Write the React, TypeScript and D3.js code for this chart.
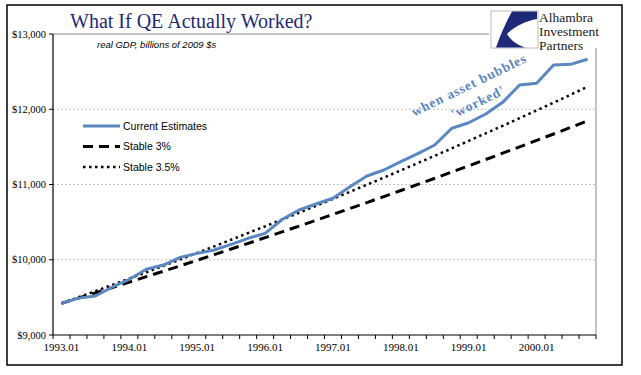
import React from "react";
import * as d3 from "d3";

const categories: string[] = [
  "1993.01","1993.04","1993.07","1993.10",
  "1994.01","1994.04","1994.07","1994.10",
  "1995.01","1995.04","1995.07","1995.10",
  "1996.01","1996.04","1996.07","1996.10",
  "1997.01","1997.04","1997.07","1997.10",
  "1998.01","1998.04","1998.07","1998.10",
  "1999.01","1999.04","1999.07","1999.10",
  "2000.01","2000.04","2000.07","2000.10",
];

const currentEstimates: number[] = [
  9420, 9490, 9518, 9638, 9740, 9873, 9930, 10032,
  10085, 10130, 10205, 10285, 10350, 10535, 10661, 10741,
  10817, 10971, 11113, 11193, 11303, 11410, 11525, 11747,
  11821, 11937, 12092, 12322, 12345, 12588, 12597, 12664,
];

const stable3: number[] = [
  9420, 9490, 9560, 9631, 9703, 9775, 9847, 9920,
  9994, 10068, 10143, 10218, 10294, 10370, 10447, 10524,
  10602, 10681, 10760, 10840, 10920, 11001, 11083, 11165,
  11248, 11332, 11416, 11500, 11586, 11671, 11758, 11845,
];

const stable35: number[] = [
  9420, 9501, 9583, 9666, 9750, 9834, 9919, 10005,
  10091, 10178, 10266, 10355, 10444, 10534, 10625, 10717,
  10810, 10903, 10997, 11092, 11188, 11285, 11382, 11480,
  11580, 11680, 11780, 11882, 11985, 12088, 12193, 12298,
];

const yTicks: number[] = [9000, 10000, 11000, 12000, 13000];
const seriesNames: string[] = ["Current Estimates", "Stable 3%", "Stable 3.5%"];

const BLUE = "#5B87C0";
const NAVY = "#1E2A78";

export default function App() {
  const left = 53, right = 596, top = 34, bottom = 335;
  const x = d3.scaleBand<string>().domain(categories).range([left, right]);
  const bw = x.bandwidth();
  const cx = (c: string) => (x(c) as number) + bw / 2;
  const y = d3.scaleLinear().domain([9000, 13000]).range([bottom, top]);

  const line = d3
    .line<number>()
    .x((_, i) => cx(categories[i]))
    .y((d) => y(d));

  const tickXs = categories.map((c) => x(c) as number).concat([right]);
  const serif = "'Liberation Serif', 'Times New Roman', serif";
  const sans = "'Liberation Sans', Arial, sans-serif";

  return (
    <svg
      width={641}
      height={375}
      style={{ position: "absolute", left: 0, top: 0, display: "block", background: "#fff" }}
    >
      <rect x={0} y={0} width={641} height={375} fill="#fff" />
      {/* outer frame */}
      <rect x={7} y={5} width={615} height={360} fill="none" stroke="#000" strokeWidth={1.5} />

      {/* gridlines */}
      {yTicks.slice(1, 4).map((t) => (
        <line key={t} x1={left} x2={right} y1={y(t)} y2={y(t)} stroke="#b0b0b0" strokeWidth={0.8} strokeDasharray="2,2" />
      ))}
      {/* plot border top & right */}
      <line x1={left} x2={right} y1={y(13000)} y2={y(13000)} stroke="#888" strokeWidth={1} />
      <line x1={right} x2={right} y1={top} y2={bottom} stroke="#888" strokeWidth={1} />

      {/* axes */}
      <line x1={left} x2={left} y1={top} y2={bottom} stroke="#000" strokeWidth={1.2} />
      <line x1={left} x2={right} y1={bottom} y2={bottom} stroke="#000" strokeWidth={1.2} />
      {yTicks.map((t) => (
        <g key={t}>
          <line x1={left - 4} x2={left} y1={y(t)} y2={y(t)} stroke="#000" strokeWidth={1} />
          <text x={left - 7} y={y(t) + 3.5} textAnchor="end" fontFamily={serif} fontSize={10.5} fill="#000">
            {d3.format("$,")(t)}
          </text>
        </g>
      ))}
      {tickXs.map((tx, i) => (
        <line key={i} x1={tx} x2={tx} y1={bottom} y2={bottom + 4} stroke="#000" strokeWidth={1} />
      ))}
      {categories.map((c, i) =>
        i % 4 === 0 ? (
          <text key={c} x={cx(c)} y={bottom + 16} textAnchor="middle" fontFamily={serif} fontSize={11} fill="#000">
            {c}
          </text>
        ) : null
      )}

      {/* series */}
      <path d={line(stable3) || ""} fill="none" stroke="#000" strokeWidth={3} strokeDasharray="10,6" />
      <path d={line(stable35) || ""} fill="none" stroke="#000" strokeWidth={2.5} strokeDasharray="2.5,3.5" />
      <path d={line(currentEstimates) || ""} fill="none" stroke={BLUE} strokeWidth={3} strokeLinejoin="round" />

      {/* legend */}
      <g fontFamily={sans} fontSize={10.5} fill="#000">
        <line x1={83} x2={120} y1={126} y2={126} stroke={BLUE} strokeWidth={3} />
        <text x={123} y={129.5}>{seriesNames[0]}</text>
        <line x1={83} x2={120} y1={146.5} y2={146.5} stroke="#000" strokeWidth={3} strokeDasharray="10,6" />
        <text x={123} y={150}>{seriesNames[1]}</text>
        <line x1={83} x2={120} y1={167} y2={167} stroke="#000" strokeWidth={2.5} strokeDasharray="2.5,3.5" />
        <text x={123} y={170.5}>{seriesNames[2]}</text>
      </g>

      {/* annotation */}
      <g fontFamily={serif} fontWeight="bold" fontSize={13.5} fill={BLUE}>
        <text transform="translate(471,89) rotate(-26)" textAnchor="middle" letterSpacing={0.9}>
          when asset bubbles
        </text>
        <text transform="translate(480,106) rotate(-26)" textAnchor="middle" letterSpacing={0.9}>
          'worked'
        </text>
      </g>

      {/* title */}
      <text x={70} y={28} fontFamily={serif} fontSize={20} fill={NAVY}>
        What If QE Actually Worked?
      </text>
      <text x={97} y={48} fontFamily={sans} fontStyle="italic" fontSize={9.5} fill="#000">
        real GDP, billions of 2009 $s
      </text>

      {/* logo */}
      <rect x={489} y={8} width={125} height={40} fill="#fff" />
      <rect x={491} y={11} width={47} height={37} fill="#fff" stroke="#aaa" strokeWidth={0.8} />
      <path
        d="M537,11.5 L512,11.5 C506,22 501,34 496,47.5 L525,47.5 C515,44 510,39 507,34 C515,26 526,21 537,19 Z"
        fill={NAVY}
      />
      <g fontFamily={serif} fontSize={13.5} fill="#222">
        <text x={539} y={22}>Alhambra</text>
        <text x={539} y={36}>Investment</text>
        <text x={539} y={50}>Partners</text>
      </g>
    </svg>
  );
}
